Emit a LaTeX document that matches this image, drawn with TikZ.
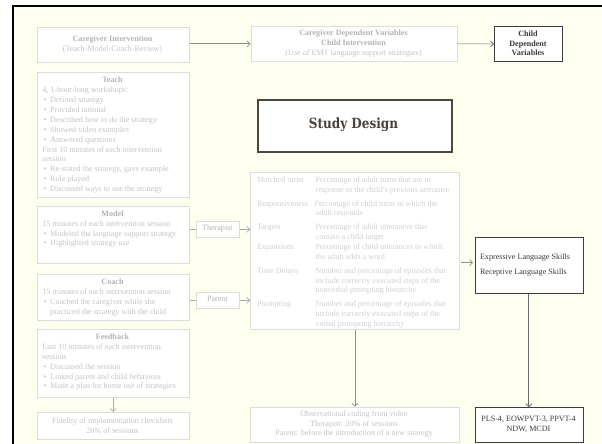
\documentclass[tikz,border=0pt]{standalone}
\usepackage{fontspec}
\setmainfont{Liberation Serif}
\newfontfamily\sdfont[FakeStretch=0.86]{DejaVu Serif}
\usetikzlibrary{arrows.meta,shadows}
\definecolor{cream}{HTML}{FFFFF0}
\definecolor{lborder}{HTML}{DCDCDC}
\definecolor{lshadow}{HTML}{ABABAB}
\definecolor{ltext}{HTML}{C4C4C4}
\definecolor{mtext}{HTML}{B4B4B4}
\definecolor{vtext}{HTML}{D0D0D0}
\definecolor{dtext}{HTML}{3A3A3A}
\definecolor{dborder}{HTML}{3C3C3C}
\definecolor{agray}{HTML}{8C8C8C}
\definecolor{adark}{HTML}{6A6A6A}
\newcommand{\mybul}{\makebox[6.5pt][l]{\textbullet}}
\tikzset{
  lbox/.style={draw=lborder, fill=white, line width=0.7pt, inner sep=0pt, anchor=north west,
    general shadow={fill=lshadow, shadow xshift=0.7pt, shadow yshift=-0.7pt}},
  dbox/.style={draw=dborder, fill=white, line width=0.8pt, inner sep=0pt, anchor=north west,
    general shadow={fill=gray, shadow xshift=0.5pt, shadow yshift=-0.5pt}},
  txt/.style={anchor=west, inner sep=0pt, font=\fontsize{8.1}{9.5}\selectfont, text=ltext,
    text height=5.6pt, text depth=1.7pt},
  ctxt/.style={txt, anchor=center},
  ttl/.style={ctxt, font=\fontsize{8.1}{9.5}\selectfont\bfseries, text=mtext},
  vtxt/.style={txt, text=vtext},
  dtxt/.style={txt, text=dtext},
  larrow/.style={draw=agray, line width=0.7pt, -{Straight Barb[length=3pt,width=6pt]}},
}
\begin{document}
\begin{tikzpicture}[x=1pt,y=-1pt]
\useasboundingbox (0,0) rectangle (602,444);
\fill[white] (0,0) rectangle (602,444);
\fill[cream] (13,6) rectangle (602,444);
\draw[black,line width=2pt] (13,444) -- (13,6) -- (602,6);

% top row
\node[lbox, minimum width=152.5pt, minimum height=35.6pt] (ci) at (36.5,26.7) {};
\node[ttl] (ci1) at (112.5,39.3) {Caregiver Intervention};
\node[ctxt] (ci2) at (112.5,49.3) {(Teach-Model-Coach-Review)};

\node[lbox, minimum width=206.5pt, minimum height=35.6pt] (cd) at (250.5,25.7) {};
\node[ttl] (cd1) at (353.5,33.3) {Caregiver Dependent Variables};
\node[ttl] (cd2) at (353.5,43.3) {Child Intervention};
\node[ctxt] (cd3) at (353.5,53.3) {(Use of EMT language support strategies)};

\node[dbox, minimum width=68pt, minimum height=35.6pt] (child) at (494,25.7) {};
\node[ttl, text=dtext] (ch1) at (528,34.3) {Child};
\node[ttl, text=dtext] (ch2) at (528,44.3) {Dependent};
\node[ttl, text=dtext] (ch3) at (528,53.8) {Variables};

% Teach
\node[lbox, minimum width=152.5pt, minimum height=125pt] (teach) at (36.5,72.3) {};
\node[ttl] (te0) at (112.5,80.3) {Teach};
\node[txt] (te1) at (42.2,90.3) {4, 1-hour-long workshops:};
\node[txt] (te2) at (43.5,100.3) {\mybul Defined strategy};
\node[txt] (te3) at (43.5,110.3) {\mybul Provided rational};
\node[txt] (te4) at (43.5,120.3) {\mybul Described how to do the strategy};
\node[txt] (te5) at (43.5,130.3) {\mybul Showed video examples};
\node[txt] (te6) at (43.5,140.3) {\mybul Answered questions};
\node[txt] (te7) at (42.2,150.3) {First 10 minutes of each intervention};
\node[txt] (te8) at (42.2,159.3) {session};
\node[txt] (te9) at (43.5,169.3) {\mybul Re-stated the strategy, gave example};
\node[txt] (te10) at (43.5,179.3) {\mybul Role played};
\node[txt] (te11) at (43.5,189.3) {\mybul Discussed ways to use the strategy};

% Model
\node[lbox, minimum width=152.5pt, minimum height=57.6pt] (model) at (36.5,205.7) {};
\node[ttl] (mo0) at (112.5,214.3) {Model};
\node[txt] (mo1) at (42.2,224.3) {15 minutes of each intervention session};
\node[txt] (mo2) at (43.5,234.3) {\mybul Modeled the language support strategy};
\node[txt] (mo3) at (43.5,243.3) {\mybul Highlighted strategy use};

% Coach
\node[lbox, minimum width=152.5pt, minimum height=46pt] (coach) at (36.5,274.3) {};
\node[ttl] (co0) at (112.5,282.3) {Coach};
\node[txt] (co1) at (42.2,292.3) {15 minutes of each intervention session};
\node[txt] (co2) at (43.5,302.3) {\mybul Coached the caregiver while she};
\node[txt] (co3) at (50,312.3) {practiced the strategy with the child};

% Feedback
\node[lbox, minimum width=152.5pt, minimum height=67.7pt] (fb) at (36.5,329.3) {};
\node[ttl] (fb0) at (112.5,337.3) {Feedback};
\node[txt] (fb1) at (42.2,347.3) {Last 10 minutes of each intervention};
\node[txt] (fb2) at (42.2,357.3) {session};
\node[txt] (fb3) at (43.5,367.3) {\mybul Discussed the session};
\node[txt] (fb4) at (43.5,377.3) {\mybul Linked parent and child behaviors};
\node[txt] (fb5) at (43.5,386.3) {\mybul Made a plan for home use of strategies};

% Fidelity
\node[lbox, minimum width=152.5pt, minimum height=27.3pt] (fid) at (36.5,412) {};
\node[ctxt] (fi1) at (112.5,421.3) {Fidelity of implementation checklists};
\node[ctxt] (fi2) at (112.5,431.3) {20\% of sessions};

% Therapist / Parent
\node[lbox, minimum width=42.8pt, minimum height=16pt] (ther) at (196,221) {};
\node[ctxt, text=mtext] (th1) at (217.4,229) {Therapist};
\node[lbox, minimum width=42.8pt, minimum height=16pt] (par) at (196,292) {};
\node[ctxt, text=mtext] (pa1) at (217.4,300) {Parent};

% Study Design
\node[draw=dborder!85!brown, line width=1.8pt, fill=white, inner sep=0pt, anchor=north west,
  minimum width=194pt, minimum height=52pt,
  general shadow={fill=gray, shadow xshift=0pt, shadow yshift=-1pt}] (sd) at (257,98.7) {};
\node[inner sep=0pt, text=dtext!90!brown, font=\sdfont\bfseries\fontsize{14}{16}\selectfont] (sdt) at (353.5,125) {Study Design};

% Measures box
\node[lbox, minimum width=208.4pt, minimum height=157.6pt] (mid) at (250.3,171.7) {};
\node[vtxt] (m1a) at (256.8,180.3) {Matched turns};
\node[vtxt] (m1b) at (315.5,180.3) {Percentage of adult turns that are in};
\node[vtxt] (m1c) at (315.5,190.3) {response to the child's previous utterance};
\node[vtxt] (m2a) at (256.8,204.3) {Responsiveness};
\node[vtxt] (m2b) at (314.4,204.3) {Percentage of child turns to which the};
\node[vtxt] (m2c) at (315.5,213.3) {adult responds};
\node[vtxt] (m3a) at (256.8,227.3) {Targets};
\node[vtxt] (m3b) at (315.5,227.3) {Percentage of adult utterances that};
\node[vtxt] (m3c) at (315.5,237.3) {contain a child target};
\node[vtxt] (m4a) at (256.8,247.3) {Expansions};
\node[vtxt] (m4b) at (315.5,247.3) {Percentage of child utterances to which};
\node[vtxt] (m4c) at (315.5,257.3) {the adult adds a word};
\node[vtxt] (m5a) at (256.8,271.3) {Time Delays};
\node[vtxt] (m5b) at (315.5,271.3) {Number and percentage of episodes that};
\node[vtxt] (m5c) at (315.5,281.3) {include correctly executed steps of the};
\node[vtxt] (m5d) at (315.5,290.7) {nonverbal prompting hierarchy};
\node[vtxt] (m6a) at (256.8,304.3) {Prompting};
\node[vtxt] (m6b) at (315.5,304.3) {Number and percentage of episodes that};
\node[vtxt] (m6c) at (315.5,314.3) {include correctly executed steps of the};
\node[vtxt] (m6d) at (315.5,324.3) {verbal prompting hierarchy};

% Observational
\node[lbox, minimum width=208.4pt, minimum height=35pt] (obs) at (250.3,406.7) {};
\node[ctxt] (ob1) at (354,414.7) {Observational coding from video};
\node[ctxt] (ob2) at (354,424.7) {Therapist: 20\% of sessions};
\node[ctxt] (ob3) at (354,433.3) {Parent: before the introduction of a new strategy};

% Language skills
\node[dbox, minimum width=108pt, minimum height=55.4pt] (expr) at (474.5,237.3) {};
\node[dtxt] (ex1) at (479.8,257.3) {Expressive Language Skills};
\node[dtxt] (ex2) at (479.8,272.3) {Receptive Language Skills};
\node[dbox, minimum width=108pt, minimum height=34.4pt] (pls) at (474.5,407.3) {};
\node[ctxt, text=dtext] (pl1) at (528.5,419.3) {PLS-4, EOWPVT-3, PPVT-4};
\node[ctxt, text=dtext] (pl2) at (528.5,429.3) {NDW, MCDI};

% connectors
\draw[larrow] (ci.east |- cd.west) -- (cd.west);
\draw[larrow, draw=adark] (cd.east) -- (child.west);
\draw[draw=lshadow, line width=0.7pt] (model.east |- ther.west) -- (ther.west);
\draw[larrow, draw=lshadow] (ther.east) -- (ther.east -| mid.west);
\draw[draw=lshadow, line width=0.7pt] (coach.east |- par.west) -- (par.west);
\draw[larrow, draw=lshadow] (par.east) -- (par.east -| mid.west);
\draw[larrow, shorten <=1.5pt, shorten >=1.5pt] (ex1.west -| mid.east) ++(0,5.4) coordinate (me) (me) -- (me -| expr.west);
\draw[larrow] (mid.south) -- (obs.north);
\draw[larrow, draw=adark, line width=0.9pt] (expr.south) -- (pls.north);
\draw[larrow, draw=lshadow] (fb.south) -- (fid.north);
\end{tikzpicture}
\end{document}
